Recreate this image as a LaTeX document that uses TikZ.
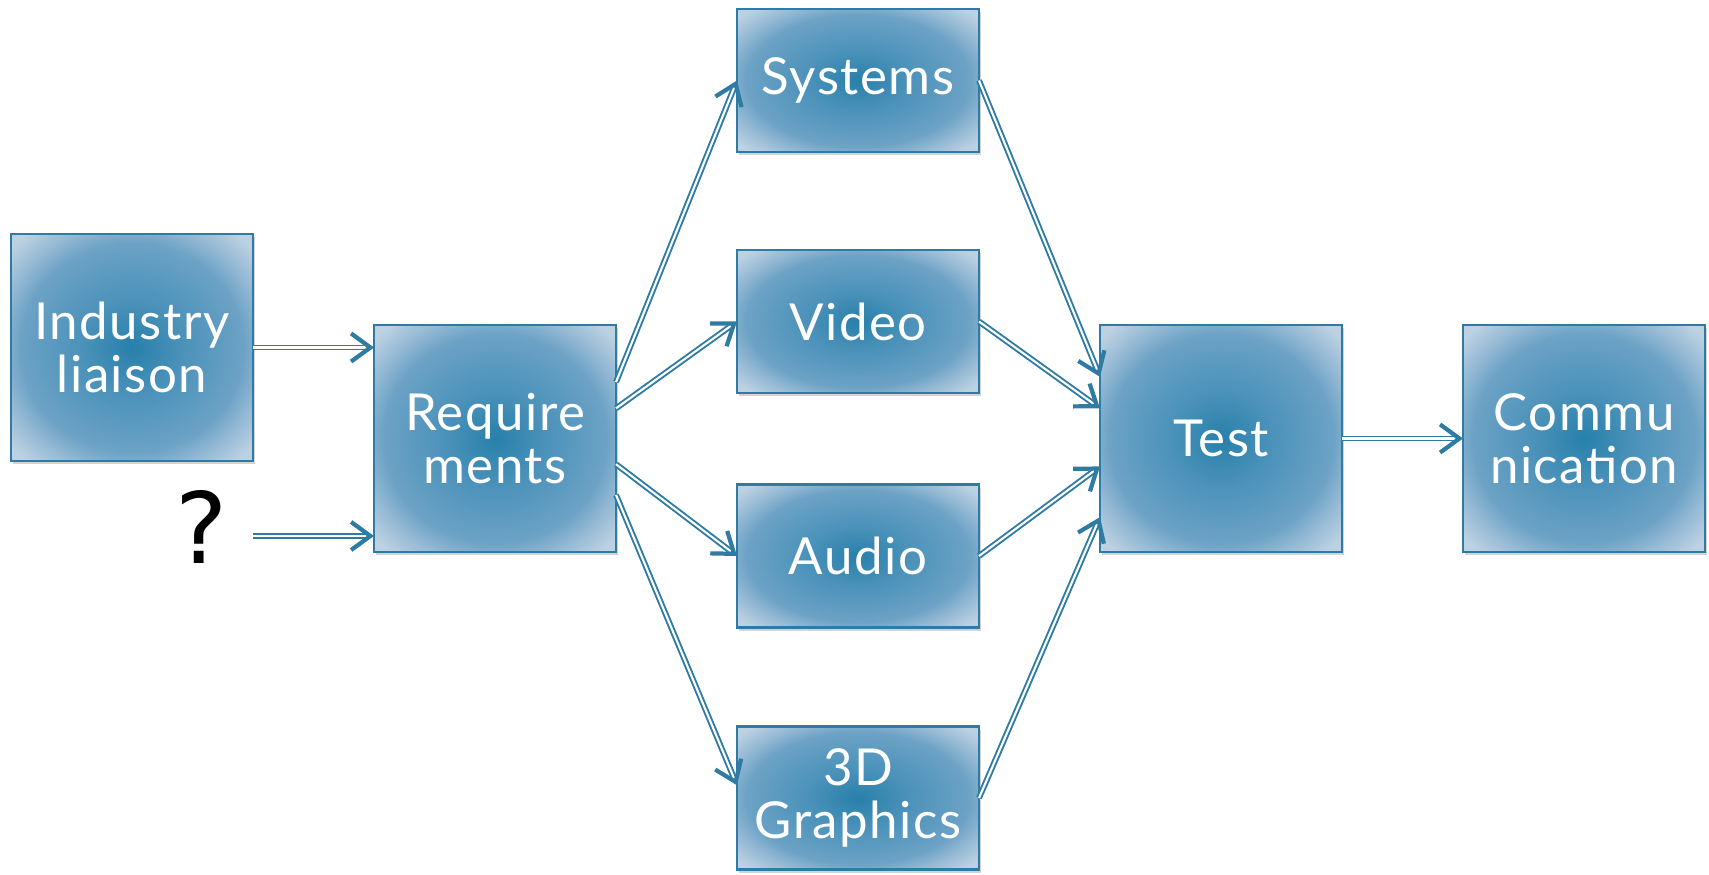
\documentclass[tikz,border=0pt]{standalone}
\usepackage{fontspec}
\setmainfont{Lato}[LetterSpace=3]
\newfontfamily\qfont{DejaVu Sans}
\usepackage{tikz}
\usetikzlibrary{arrows.meta, positioning, shadows}
\usepackage{xcolor}
\definecolor{SteelBlue}{HTML}{2E7BA4}
\definecolor{CoreBlue}{HTML}{2780AB}
\definecolor{InnerBlue}{HTML}{4A91B9}
\definecolor{EdgeBlue}{HTML}{6CA2C5}
\definecolor{RimBlue}{HTML}{93B8D4}
\definecolor{PaleBlue}{HTML}{BCD1E2}
\pgfdeclareradialshading{boxglow}{\pgfpoint{0bp}{0bp}}{%
  color(0bp)=(CoreBlue); color(10bp)=(InnerBlue); color(23bp)=(EdgeBlue);
  color(27.5bp)=(RimBlue); color(33bp)=(PaleBlue); color(50bp)=(PaleBlue)}
\tikzset{
  % Small stage box
  stage/.style={
    rectangle, draw=SteelBlue, line width=0.6pt,
    shading=boxglow,
    minimum width=2.42cm, minimum height=1.43cm,
    inner sep=0pt, outer sep=0pt, align=center,
    text=white, font=\fontsize{14.5}{15.2}\selectfont,
    drop shadow={shadow xshift=0.5pt, shadow yshift=-0.9pt, opacity=0.35}
  },
  % Tall stage box
  bigstage/.style={
    stage, minimum height=2.27cm
  },
  % Arrow style
  flow/.style={
    draw=SteelBlue, line width=0.55pt, double=white, double distance=0.6pt,
    -{Straight Barb[length=5.5pt, width=8pt, line width=1.2pt]}
  }
}
\begin{document}
\begin{tikzpicture}
\useasboundingbox (0,0) rectangle (17.09,8.74);

% Stages
\node[bigstage] (liaison) at (1.32,5.265) {Industry\\liaison};
\node[bigstage] (req) at (4.95,4.355) {Require\\ments};

\node[stage] (sys)   at (8.58,7.935) {Systems};
\node[stage] (video) at (8.58,5.525) {Video};
\node[stage] (audio) at (8.58,3.18)  {Audio};
\node[stage] (gfx)   at (8.58,0.76)  {3D\\Graphics};

\node[bigstage, right=4.84cm of req] (test) {Test};
\node[bigstage, right=1.21cm of test] (comm) {Commu\\nication};

% Unknown source
\node[inner sep=0pt, font=\qfont\fontsize{28}{30}\selectfont] (unknown) at (2.02,3.47) {?};
\coordinate (qsrc) at (2.53,3.38);

% Arrows
\draw[flow] (liaison.east) -- (liaison.east -| req.west);
\draw[flow] (qsrc) -- (qsrc -| req.west);

\draw[flow] (req.25)  -- (sys.west);
\draw[flow] (req.14.6) -- (video.west);
\draw[flow] (req.-12.4) -- (audio.west);
\draw[flow] (req.-25.8) -- (gfx.174.8);

\draw[flow] (sys.east)   -- (test.153.8);
\draw[flow] (video.east) -- (test.166.7);
\draw[flow] (audio.east) -- (test.193.3);
\draw[flow] (gfx.east)   -- (test.213);

\draw[flow] (test) -- (comm);

\end{tikzpicture}
\end{document}
